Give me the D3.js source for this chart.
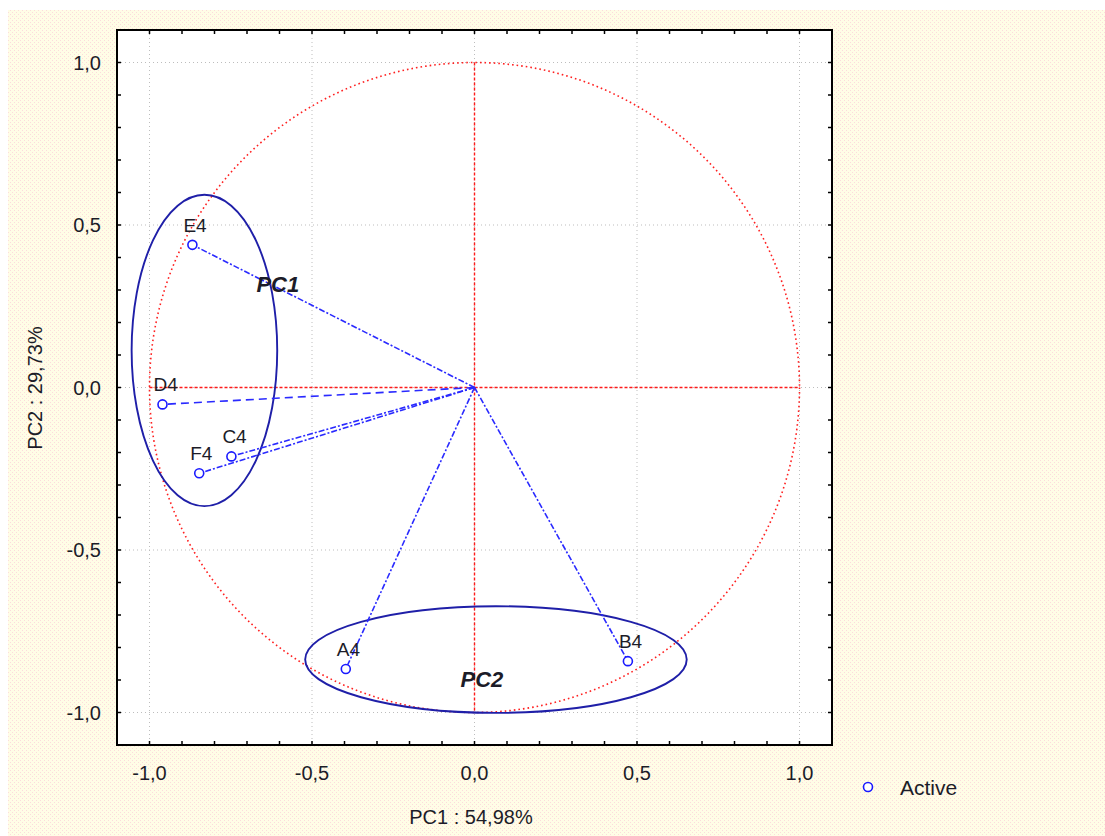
<!DOCTYPE html>
<html>
<head>
<meta charset="utf-8">
<script src="https://cdn.jsdelivr.net/npm/d3@7"></script>
<style>
  body { margin: 0; background: #fff; }
  text { font-family: "Liberation Sans", Arial, sans-serif; }
</style>
</head>
<body>
<div id="chart"></div>
<script>
// variables (loadings)
const names = ["E4", "D4", "C4", "F4", "A4", "B4"];
const pc1 = [-0.868, -0.960, -0.748, -0.847, -0.396, 0.472];
const pc2 = [0.439, -0.052, -0.212, -0.264, -0.866, -0.842];
const lineDash = ["6,2,2,2", "8,5", "6,2,2,2", "6,2,2,2", "6,2,2,2", "6,2,2,2"];

const tickVals = [-1.0, -0.5, 0.0, 0.5, 1.0];

// group ellipses: centre, radii and label position, in PC units
const groupNames = ["PC1", "PC2"];
const groupCx = [-0.831, 0.066];
const groupCy = [0.114, -0.837];
const groupRx = [0.224, 0.587];
const groupRy = [0.479, 0.164];
const groupLabelX = [-0.671, -0.043];
const groupLabelY = [0.293, -0.923];

const W = 1105, H = 836;
const mLeft = 117, mTop = 30, plotW = 715, plotH = 715;
const ink = "#1c1c28";

const svg = d3.select("#chart").append("svg")
  .attr("width", W).attr("height", H);

// dotted background
const defs = svg.append("defs");
const pat = defs.append("pattern").attr("id", "dots")
  .attr("width", 4).attr("height", 4).attr("patternUnits", "userSpaceOnUse");
pat.append("rect").attr("width", 4).attr("height", 4).attr("fill", "#fffde6");
pat.append("rect").attr("x", 0).attr("y", 0).attr("width", 1).attr("height", 1).attr("fill", "#fcdcdc");
pat.append("rect").attr("x", 2).attr("y", 2).attr("width", 1).attr("height", 1).attr("fill", "#fcdcdc");

svg.append("rect").attr("x", 8).attr("y", 10).attr("width", W - 8).attr("height", H - 10)
  .attr("fill", "url(#dots)");

const x = d3.scaleLinear().domain([-1.1, 1.1]).range([mLeft, mLeft + plotW]);
const y = d3.scaleLinear().domain([-1.1, 1.1]).range([mTop + plotH, mTop]);
const fmt = d => d3.format(".1f")(d).replace(".", ",").replace("−", "-");

svg.append("rect").attr("x", mLeft).attr("y", mTop).attr("width", plotW).attr("height", plotH)
  .attr("fill", "#fff");

// grid
const g = svg.append("g");
g.selectAll(".gx").data(tickVals).enter().append("line")
  .attr("x1", d => x(d)).attr("x2", d => x(d))
  .attr("y1", mTop).attr("y2", mTop + plotH)
  .attr("stroke", "#bdbdbd").attr("stroke-dasharray", "1,3");
g.selectAll(".gy").data(tickVals).enter().append("line")
  .attr("y1", d => y(d)).attr("y2", d => y(d))
  .attr("x1", mLeft).attr("x2", mLeft + plotW)
  .attr("stroke", "#bdbdbd").attr("stroke-dasharray", "1,3");

// unit circle + red axes
g.append("circle").attr("cx", x(0)).attr("cy", y(0)).attr("r", x(1) - x(0))
  .attr("fill", "none").attr("stroke", "#ff2020").attr("stroke-width", 1.6)
  .attr("stroke-dasharray", "1.6,3");
g.append("line").attr("x1", x(0)).attr("x2", x(0)).attr("y1", y(1)).attr("y2", y(-1))
  .attr("stroke", "#ff1a1a").attr("stroke-width", 1.4).attr("stroke-dasharray", "3,2");
g.append("line").attr("x1", x(-1)).attr("x2", x(1)).attr("y1", y(0)).attr("y2", y(0))
  .attr("stroke", "#ff1a1a").attr("stroke-width", 1.4).attr("stroke-dasharray", "3,2");

// group ellipses
g.selectAll(".ell").data(groupNames).enter().append("ellipse")
  .attr("cx", (d, i) => x(groupCx[i])).attr("cy", (d, i) => y(groupCy[i]))
  .attr("rx", (d, i) => x(groupRx[i]) - x(0)).attr("ry", (d, i) => y(0) - y(groupRy[i]))
  .attr("fill", "none").attr("stroke", "#1f1fa8").attr("stroke-width", 1.9);

// vectors
g.selectAll(".vec").data(names).enter().append("line")
  .attr("x1", x(0)).attr("y1", y(0))
  .attr("x2", (d, i) => x(pc1[i])).attr("y2", (d, i) => y(pc2[i]))
  .attr("stroke", "#2a2aff").attr("stroke-width", 1.6)
  .attr("stroke-dasharray", (d, i) => lineDash[i]);

g.selectAll(".pt").data(names).enter().append("circle")
  .attr("cx", (d, i) => x(pc1[i])).attr("cy", (d, i) => y(pc2[i])).attr("r", 4.5)
  .attr("fill", "#fff").attr("stroke", "#1a1aff").attr("stroke-width", 1.6);

g.selectAll(".lbl").data(names).enter().append("text")
  .attr("x", (d, i) => x(pc1[i]) - 9).attr("y", (d, i) => y(pc2[i]) - 13)
  .attr("font-size", 19).attr("fill", ink).text(d => d);

g.selectAll(".glbl").data(groupNames).enter().append("text")
  .attr("x", (d, i) => x(groupLabelX[i])).attr("y", (d, i) => y(groupLabelY[i]))
  .attr("font-size", 22).attr("font-weight", "bold").attr("font-style", "italic")
  .attr("fill", ink).text(d => d);

// frame and axes
svg.append("rect").attr("x", mLeft).attr("y", mTop).attr("width", plotW).attr("height", plotH)
  .attr("fill", "none").attr("stroke", "#000").attr("stroke-width", 2);

const minor = d3.range(-11, 12).map(d => d / 10);
const ax = svg.append("g").attr("stroke", "#000").attr("stroke-width", 1.5);
ax.selectAll(".tb").data(minor).enter().append("line")
  .attr("x1", d => x(d)).attr("x2", d => x(d)).attr("y1", mTop + plotH).attr("y2", mTop + plotH - 4);
ax.selectAll(".tt").data(minor).enter().append("line")
  .attr("x1", d => x(d)).attr("x2", d => x(d)).attr("y1", mTop).attr("y2", mTop + 4);
ax.selectAll(".tl").data(minor).enter().append("line")
  .attr("y1", d => y(d)).attr("y2", d => y(d)).attr("x1", mLeft).attr("x2", mLeft + 4);
ax.selectAll(".tr").data(minor).enter().append("line")
  .attr("y1", d => y(d)).attr("y2", d => y(d)).attr("x1", mLeft + plotW).attr("x2", mLeft + plotW - 4);

svg.selectAll(".xl").data(tickVals).enter().append("text")
  .attr("x", d => x(d)).attr("y", 780).attr("text-anchor", "middle")
  .attr("font-size", 20).attr("fill", ink).text(fmt);
svg.selectAll(".yl").data(tickVals).enter().append("text")
  .attr("x", 101).attr("y", d => y(d) + 7).attr("text-anchor", "end")
  .attr("font-size", 20).attr("fill", ink).text(fmt);

svg.append("text").attr("x", 471).attr("y", 824).attr("text-anchor", "middle")
  .attr("font-size", 20).attr("fill", ink).text("PC1 : 54,98%");
svg.append("text").attr("transform", "translate(42,388) rotate(-90)").attr("text-anchor", "middle")
  .attr("font-size", 20).attr("fill", ink).text("PC2 : 29,73%");

// legend
svg.append("circle").attr("cx", 868).attr("cy", 787).attr("r", 4.5)
  .attr("fill", "#fff").attr("stroke", "#1a1aff").attr("stroke-width", 1.6);
svg.append("text").attr("x", 900).attr("y", 795).attr("font-size", 21).attr("fill", ink).text("Active");
</script>
</body>
</html>
